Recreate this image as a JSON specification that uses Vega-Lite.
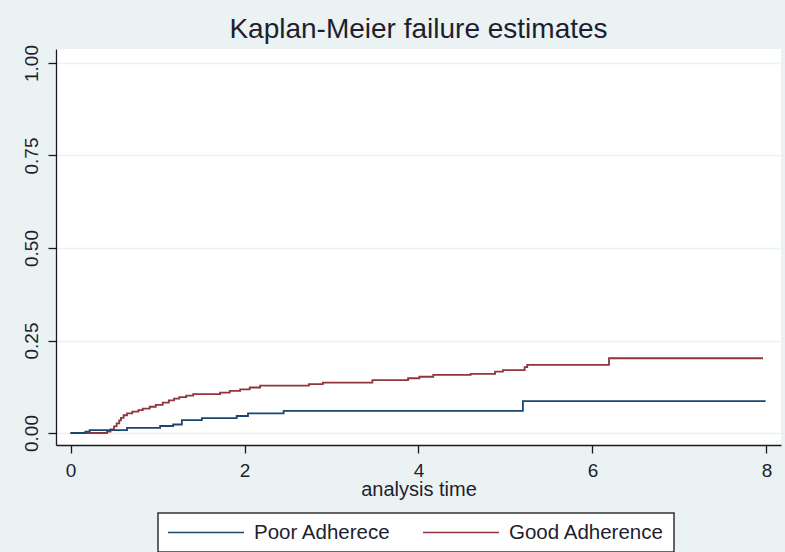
{
  "$schema": "https://vega.github.io/schema/vega-lite/v6.json",
  "width": 725,
  "height": 396,
  "autosize": {"type": "none"},
  "padding": {"left": 56, "top": 49, "right": 4, "bottom": 107},
  "background": "#EAF2F3",
  "title": {
    "text": "Kaplan-Meier failure estimates",
    "font": "Liberation Sans",
    "fontSize": 28,
    "fontWeight": "normal",
    "color": "#1e1e2e",
    "anchor": "middle",
    "frame": "group",
    "baseline": "alphabetic",
    "offset": 8,
    "dy": 30
  },
  "data": {
    "values": [
      {"group": "Good Adherence", "t": 0, "f": 0},
      {"group": "Good Adherence", "t": 0.42, "f": 0.004},
      {"group": "Good Adherence", "t": 0.46, "f": 0.010},
      {"group": "Good Adherence", "t": 0.50, "f": 0.018},
      {"group": "Good Adherence", "t": 0.53, "f": 0.026},
      {"group": "Good Adherence", "t": 0.56, "f": 0.034},
      {"group": "Good Adherence", "t": 0.58, "f": 0.041},
      {"group": "Good Adherence", "t": 0.61, "f": 0.048},
      {"group": "Good Adherence", "t": 0.65, "f": 0.053},
      {"group": "Good Adherence", "t": 0.71, "f": 0.058},
      {"group": "Good Adherence", "t": 0.78, "f": 0.062},
      {"group": "Good Adherence", "t": 0.83, "f": 0.066},
      {"group": "Good Adherence", "t": 0.91, "f": 0.071},
      {"group": "Good Adherence", "t": 0.98, "f": 0.076},
      {"group": "Good Adherence", "t": 1.06, "f": 0.082},
      {"group": "Good Adherence", "t": 1.13, "f": 0.088},
      {"group": "Good Adherence", "t": 1.19, "f": 0.093},
      {"group": "Good Adherence", "t": 1.25, "f": 0.097},
      {"group": "Good Adherence", "t": 1.33, "f": 0.101},
      {"group": "Good Adherence", "t": 1.41, "f": 0.105},
      {"group": "Good Adherence", "t": 1.72, "f": 0.109},
      {"group": "Good Adherence", "t": 1.83, "f": 0.114},
      {"group": "Good Adherence", "t": 1.95, "f": 0.118},
      {"group": "Good Adherence", "t": 2.06, "f": 0.123},
      {"group": "Good Adherence", "t": 2.18, "f": 0.128},
      {"group": "Good Adherence", "t": 2.74, "f": 0.132},
      {"group": "Good Adherence", "t": 2.90, "f": 0.136},
      {"group": "Good Adherence", "t": 3.47, "f": 0.143},
      {"group": "Good Adherence", "t": 3.88, "f": 0.148},
      {"group": "Good Adherence", "t": 4.01, "f": 0.152},
      {"group": "Good Adherence", "t": 4.17, "f": 0.157},
      {"group": "Good Adherence", "t": 4.60, "f": 0.160},
      {"group": "Good Adherence", "t": 4.88, "f": 0.166},
      {"group": "Good Adherence", "t": 4.97, "f": 0.170},
      {"group": "Good Adherence", "t": 5.22, "f": 0.178},
      {"group": "Good Adherence", "t": 5.25, "f": 0.184},
      {"group": "Good Adherence", "t": 6.19, "f": 0.202},
      {"group": "Good Adherence", "t": 7.96, "f": 0.202},
      {"group": "Poor Adherece", "t": 0, "f": 0},
      {"group": "Poor Adherece", "t": 0.17, "f": 0.004},
      {"group": "Poor Adherece", "t": 0.22, "f": 0.008},
      {"group": "Poor Adherece", "t": 0.65, "f": 0.014},
      {"group": "Poor Adherece", "t": 1.03, "f": 0.019},
      {"group": "Poor Adherece", "t": 1.18, "f": 0.023},
      {"group": "Poor Adherece", "t": 1.28, "f": 0.035},
      {"group": "Poor Adherece", "t": 1.51, "f": 0.040},
      {"group": "Poor Adherece", "t": 1.91, "f": 0.046},
      {"group": "Poor Adherece", "t": 2.04, "f": 0.053},
      {"group": "Poor Adherece", "t": 2.45, "f": 0.060},
      {"group": "Poor Adherece", "t": 5.20, "f": 0.086},
      {"group": "Poor Adherece", "t": 7.99, "f": 0.086}
    ]
  },
  "mark": {"type": "line", "interpolate": "step-after", "strokeWidth": 1.8, "clip": true},
  "encoding": {
    "x": {
      "field": "t",
      "type": "quantitative",
      "scale": {"domain": [-0.1667, 8.1667], "nice": false, "zero": false},
      "axis": {
        "title": "analysis time",
        "values": [0, 2, 4, 6, 8],
        "format": "d",
        "grid": false,
        "labelFontSize": 19,
        "labelPadding": 8,
        "labelFlush": false,
        "titleFontSize": 20,
        "titleBaseline": "alphabetic",
        "titleY": 50
      }
    },
    "y": {
      "field": "f",
      "type": "quantitative",
      "scale": {"domain": [-0.0324, 1.0378], "nice": false, "zero": false},
      "axis": {
        "title": null,
        "values": [0, 0.25, 0.5, 0.75, 1],
        "format": ".2f",
        "grid": true,
        "gridColor": "#EAF2F3",
        "gridWidth": 1.5,
        "labelFontSize": 19,
        "labelAngle": 270,
        "labelAlign": "center",
        "labelBaseline": "alphabetic",
        "labelPadding": 11,
        "labelFlush": false
      }
    },
    "color": {
      "field": "group",
      "type": "nominal",
      "scale": {"domain": ["Poor Adherece", "Good Adherence"], "range": ["#1a476f", "#90353b"]},
      "legend": {
        "title": null,
        "orient": "none",
        "legendX": 102,
        "legendY": 464,
        "direction": "horizontal",
        "columns": 2,
        "symbolType": "M-1,0H7",
        "symbolSize": 361,
        "symbolStrokeWidth": 1.5,
        "labelFontSize": 20.5,
        "labelOffset": 66,
        "columnPadding": 29,
        "padding": 9,
        "fillColor": "white",
        "strokeColor": "#333333"
      }
    },
    "order": {"field": "t", "type": "quantitative"}
  },
  "config": {
    "view": {"fill": "white", "stroke": null},
    "font": "Liberation Sans",
    "axis": {
      "domainColor": "#1a1a1a",
      "domainWidth": 1.3,
      "tickColor": "#1a1a1a",
      "tickWidth": 1.3,
      "tickSize": 8,
      "labelColor": "#1e1e2e",
      "titleColor": "#1e1e2e",
      "labelFont": "Liberation Sans",
      "titleFont": "Liberation Sans",
      "titleFontWeight": "normal"
    },
    "legend": {
      "labelFont": "Liberation Sans",
      "labelColor": "#1e1e2e",
      "strokeWidth": 1.5
    }
  }
}
